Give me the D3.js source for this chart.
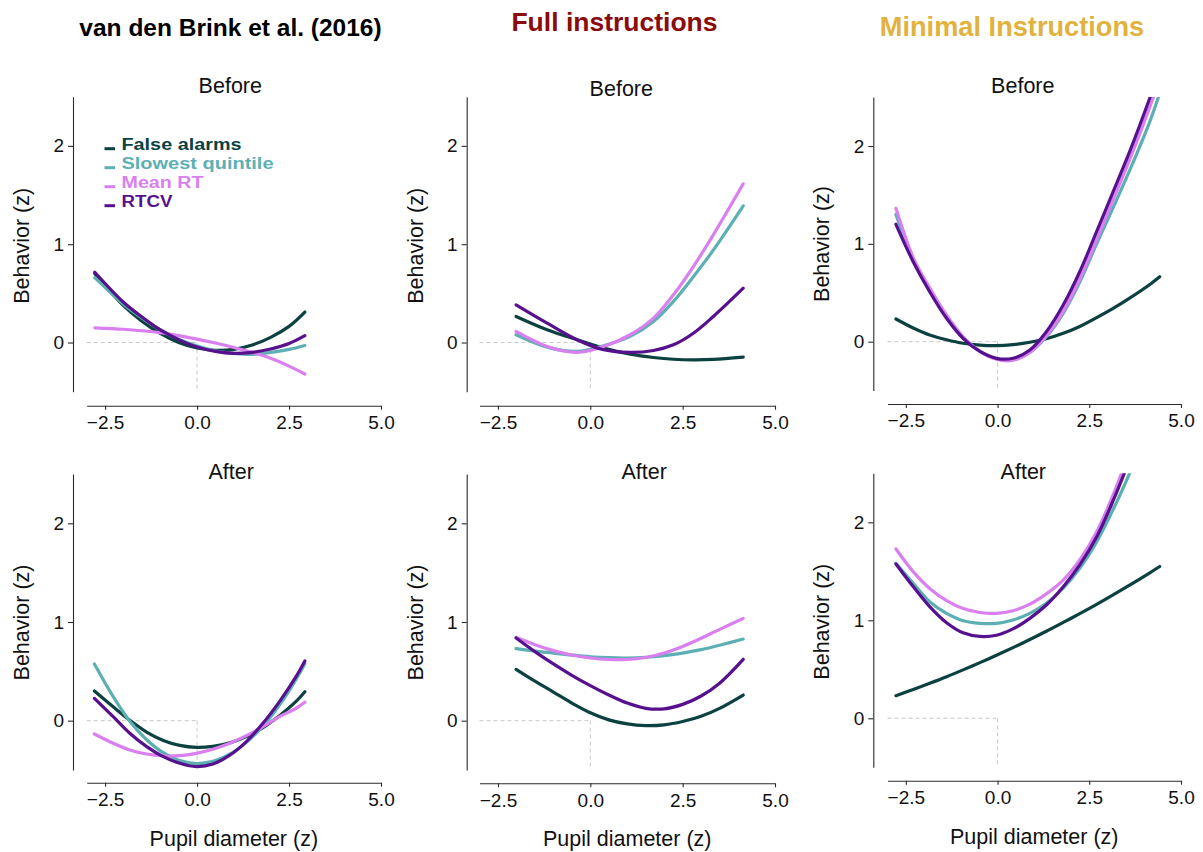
<!DOCTYPE html>
<html>
<head>
<meta charset="utf-8">
<script src="https://cdn.jsdelivr.net/npm/d3@7"></script>
<style>
  html, body { margin: 0; padding: 0; background: #ffffff; }
  svg { display: block; font-family: "Liberation Sans", Arial, Helvetica, sans-serif; }
</style>
</head>
<body>
<script>
// ---- Labels ----
const columnTitles = ["van den Brink et al. (2016)", "Full instructions", "Minimal Instructions"];
const rowTitles = ["Before", "After"];
const seriesNames = ["False alarms", "Slowest quintile", "Mean RT", "RTCV"];
const xTicks = [-2.5, 0, 2.5, 5];
const yTicks = [0, 1, 2];
const xDomain = [-3, 5];
const yDomain = [-0.5, 2.5];

// ---- van den Brink et al. (2016), before ----
const pupilBrinkBefore = [-2.78, -2, -1.5, -1, -0.5, 0, 0.5, 1, 1.5, 2, 2.5, 2.93];
const faBrinkBefore   = [0.70, 0.376, 0.218, 0.093, 0.0, -0.056, -0.079, -0.069, -0.025, 0.052, 0.164, 0.31];
const slowBrinkBefore = [0.66, 0.39, 0.25, 0.13, 0.035, -0.035, -0.085, -0.11, -0.12, -0.10, -0.07, -0.03];
const meanBrinkBefore = [0.15, 0.135, 0.12, 0.10, 0.07, 0.035, -0.005, -0.05, -0.10, -0.16, -0.24, -0.32];
const cvBrinkBefore   = [0.715, 0.41, 0.26, 0.128, 0.03, -0.045, -0.09, -0.11, -0.10, -0.066, -0.01, 0.07];

// ---- van den Brink et al. (2016), after ----
const pupilBrinkAfter = [-2.79, -2.28, -1.83, -1.37, -0.92, -0.47, -0.02, 0.43, 0.89, 1.34, 1.79, 2.24, 2.69, 2.93];
const faBrinkAfter   = [0.30, 0.14, 0.005, -0.115, -0.2, -0.25, -0.27, -0.26, -0.225, -0.162, -0.07, 0.05, 0.195, 0.294];
const slowBrinkAfter = [0.574, 0.244, -0.005, -0.193, -0.325, -0.405, -0.435, -0.413, -0.34, -0.22, -0.057, 0.157, 0.419, 0.578];
const meanBrinkAfter = [-0.135, -0.229, -0.297, -0.338, -0.358, -0.355, -0.331, -0.29, -0.229, -0.152, -0.06, 0.041, 0.125, 0.186];
const cvBrinkAfter   = [0.226, 0.04, -0.128, -0.263, -0.365, -0.432, -0.465, -0.44, -0.35, -0.212, -0.027, 0.193, 0.446, 0.605];

// ---- Full instructions, before ----
const pupilFullBefore = [-2.01, -1.17, -0.36, 0.36, 1.08, 1.71, 2.25, 2.79, 3.33, 4.14];
const faFullBefore   = [0.265, 0.13, 0.028, -0.057, -0.118, -0.152, -0.17, -0.176, -0.172, -0.149];
const slowFullBefore = [0.079, -0.047, -0.09, -0.033, 0.062, 0.214, 0.418, 0.67, 0.94, 1.39];
const meanFullBefore = [0.113, -0.04, -0.10, -0.04, 0.079, 0.248, 0.485, 0.773, 1.095, 1.614];
const cvFullBefore   = [0.383, 0.197, 0.028, -0.074, -0.10, -0.081, -0.023, 0.095, 0.265, 0.553];

// ---- Full instructions, after ----
const pupilFullAfter = [-2.01, -1.5, -1.0, -0.5, 0, 0.5, 1.0, 1.5, 2.0, 2.5, 3.0, 3.5, 4.14];
const faFullAfter   = [0.52, 0.40, 0.29, 0.178, 0.08, 0.008, -0.033, -0.05, -0.042, -0.008, 0.045, 0.125, 0.26];
const slowFullAfter = [0.73, 0.705, 0.685, 0.665, 0.648, 0.638, 0.635, 0.643, 0.66, 0.685, 0.72, 0.765, 0.827];
const meanFullAfter = [0.845, 0.77, 0.71, 0.665, 0.635, 0.62, 0.62, 0.64, 0.685, 0.752, 0.835, 0.925, 1.037];
const cvFullAfter   = [0.838, 0.70, 0.575, 0.46, 0.355, 0.26, 0.178, 0.125, 0.12, 0.165, 0.25, 0.38, 0.622];

// ---- Minimal instructions, before ----
const pupilMinBefore = [-2.77, -2.30, -1.85, -1.39, -0.94, -0.48, -0.03, 0.42, 0.88, 1.33, 1.79, 2.24, 2.70, 3.15, 3.60, 4.15, 4.42];
const faMinBefore   = [0.232, 0.14, 0.069, 0.02, -0.016, -0.035, -0.04, -0.03, -0.006, 0.03, 0.085, 0.155, 0.245, 0.34, 0.445, 0.585, 0.664];
const slowMinBefore = [1.30, 0.84, 0.53, 0.26, 0.045, -0.10, -0.175, -0.18, -0.11, 0.05, 0.29, 0.61, 1.0, 1.37, 1.75, 2.25, 2.54];
const meanMinBefore = [1.363, 0.86, 0.55, 0.27, 0.05, -0.10, -0.18, -0.19, -0.11, 0.06, 0.31, 0.64, 1.04, 1.45, 1.86, 2.40, 2.68];
const cvMinBefore   = [1.20, 0.818, 0.511, 0.239, 0.034, -0.10, -0.17, -0.17, -0.085, 0.102, 0.375, 0.715, 1.124, 1.533, 1.942, 2.49, 2.78];

// ---- Minimal instructions, after ----
const pupilMinAfter = [-2.77, -2.30, -1.85, -1.39, -0.94, -0.48, -0.03, 0.42, 0.88, 1.33, 1.79, 2.24, 2.70, 3.15, 3.60, 4.15, 4.42];
const faMinAfter   = [0.231, 0.294, 0.357, 0.424, 0.494, 0.568, 0.643, 0.721, 0.804, 0.888, 0.978, 1.068, 1.163, 1.26, 1.359, 1.485, 1.549];
const slowMinAfter = [1.582, 1.378, 1.19, 1.071, 0.996, 0.969, 0.969, 1.003, 1.071, 1.173, 1.327, 1.531, 1.80, 2.13, 2.50, 3.0, 3.3];
const meanMinAfter = [1.728, 1.497, 1.325, 1.2, 1.12, 1.08, 1.071, 1.098, 1.165, 1.27, 1.41, 1.615, 1.90, 2.28, 2.72, 3.3, 3.6];
const cvMinAfter   = [1.575, 1.344, 1.139, 0.975, 0.872, 0.835, 0.848, 0.912, 1.02, 1.156, 1.343, 1.565, 1.85, 2.22, 2.64, 3.2, 3.5];

// ---- Styles ----
const seriesColors = ["#0c4142", "#5cb0b4", "#d97ff0", "#57118e"];
const titleColors = ["#000000", "#8b0a0a", "#e2b23e"];
const titleSizes = [24.5, 26.5, 27.2];
const titleX = [230.5, 614.5, 1012];
const titleY = [36, 31, 35.5];
const legendWidths = [120, 152, 82, 51];

// Panel frames: pixel extents of each panel's axes
const frames = [
  { row: 0, col: 0, xr: [86.7, 381], yr: [391.7, 96.7], axisX: 73,    axisY: 405.7, tx: 230.3,  ty: 93.3, lx: 29,    ly: 245.8 },
  { row: 0, col: 1, xr: [479.5, 775], yr: [391.7, 96.7], axisX: 466.7, axisY: 405.7, tx: 621.3, ty: 95.7, lx: 423,   ly: 245.8 },
  { row: 0, col: 2, xr: [887.5, 1181], yr: [390.6, 97.1], axisX: 873.3, axisY: 404,  tx: 1022.8, ty: 93.3, lx: 828.5, ly: 244 },
  { row: 1, col: 0, xr: [86.7, 381], yr: [770, 474],     axisX: 73,    axisY: 782.7, tx: 231.2,  ty: 479,  lx: 29,    ly: 622.5 },
  { row: 1, col: 1, xr: [479.5, 775], yr: [770, 474],    axisX: 466.7, axisY: 783.3, tx: 644.2,  ty: 479,  lx: 422.5, ly: 622.5 },
  { row: 1, col: 2, xr: [887.5, 1181], yr: [767.3, 473.3], axisX: 873.3, axisY: 780.7, tx: 1023.3, ty: 479, lx: 828.5, ly: 621.7 }
];

const panelData = [
  { x: pupilBrinkBefore, ys: [faBrinkBefore, slowBrinkBefore, meanBrinkBefore, cvBrinkBefore] },
  { x: pupilFullBefore,  ys: [faFullBefore, slowFullBefore, meanFullBefore, cvFullBefore] },
  { x: pupilMinBefore,   ys: [faMinBefore, slowMinBefore, meanMinBefore, cvMinBefore] },
  { x: pupilBrinkAfter,  ys: [faBrinkAfter, slowBrinkAfter, meanBrinkAfter, cvBrinkAfter] },
  { x: pupilFullAfter,   ys: [faFullAfter, slowFullAfter, meanFullAfter, cvFullAfter] },
  { x: pupilMinAfter,    ys: [faMinAfter, slowMinAfter, meanMinAfter, cvMinAfter] }
];

const svg = d3.select("body").append("svg")
  .attr("width", 1203).attr("height", 852);

// Column headings
columnTitles.forEach((t, i) => {
  svg.append("text")
    .attr("x", titleX[i]).attr("y", titleY[i])
    .attr("text-anchor", "middle")
    .attr("font-weight", "bold")
    .attr("font-size", titleSizes[i])
    .attr("fill", titleColors[i])
    .text(t);
});

const defs = svg.append("defs");

frames.forEach((f, idx) => {
  const data = panelData[idx];
  const x = d3.scaleLinear().domain(xDomain).range(f.xr);
  const y = d3.scaleLinear().domain(yDomain).range(f.yr);
  const g = svg.append("g");

  // Reference lines through the origin
  g.append("line")
    .attr("x1", x(xDomain[0])).attr("x2", x(0))
    .attr("y1", y(0)).attr("y2", y(0))
    .attr("stroke", "#c9c9c9").attr("stroke-width", 1).attr("stroke-dasharray", "4,3");
  g.append("line")
    .attr("x1", x(0)).attr("x2", x(0))
    .attr("y1", y(0)).attr("y2", y(yDomain[0]))
    .attr("stroke", "#c9c9c9").attr("stroke-width", 1).attr("stroke-dasharray", "4,3");

  // Y axis
  const ya = g.append("g")
    .attr("transform", `translate(${f.axisX},0)`)
    .call(d3.axisLeft(y).tickValues(yTicks).tickFormat(d3.format("d")).tickSize(5).tickSizeOuter(0).tickPadding(4));
  // X axis
  const xa = g.append("g")
    .attr("transform", `translate(0,${f.axisY})`)
    .call(d3.axisBottom(x).tickValues(xTicks).tickFormat(d3.format(".1f")).tickSize(4).tickSizeOuter(0).tickPadding(6));
  [ya, xa].forEach(a => {
    a.selectAll("path, line").attr("stroke", "#2a2a2a").attr("stroke-width", 1.1);
    a.selectAll("text").attr("font-size", 19).attr("fill", "#111")
      .attr("font-family", "Liberation Sans, Arial, sans-serif");
  });

  // Panel heading
  g.append("text")
    .attr("x", f.tx).attr("y", f.ty)
    .attr("text-anchor", "middle").attr("font-size", 21.5).attr("fill", "#111")
    .text(rowTitles[f.row]);

  // Y axis title
  g.append("text")
    .attr("transform", `translate(${f.lx},${f.ly}) rotate(-90)`)
    .attr("text-anchor", "middle").attr("font-size", 21.5).attr("fill", "#111")
    .text("Behavior (z)");

  // X axis title on the bottom row
  if (f.row === 1) {
    g.append("text")
      .attr("x", (f.xr[0] + f.xr[1]) / 2).attr("y", f.axisY + 63)
      .attr("text-anchor", "middle").attr("font-size", 21.5).attr("fill", "#111")
      .text("Pupil diameter (z)");
  }

  // Clip curves to the plotting range
  const clipId = "clip" + idx;
  defs.append("clipPath").attr("id", clipId)
    .append("rect")
    .attr("x", f.xr[0] - 10).attr("y", y(yDomain[1]))
    .attr("width", f.xr[1] - f.xr[0] + 20)
    .attr("height", y(yDomain[0]) - y(yDomain[1]));

  const line = d3.line()
    .x(d => x(d[0])).y(d => y(d[1]))
    .curve(d3.curveCatmullRom.alpha(0.5));

  const cg = g.append("g").attr("clip-path", `url(#${clipId})`);
  data.ys.forEach((vals, s) => {
    const pts = data.x.map((xv, i) => [xv, vals[i]]);
    cg.append("path")
      .attr("d", line(pts))
      .attr("fill", "none")
      .attr("stroke", seriesColors[s])
      .attr("stroke-width", 3.2)
      .attr("stroke-linecap", "round");
  });

  // Legend in the first panel
  if (idx === 0) {
    const lg = g.append("g");
    seriesNames.forEach((name, s) => {
      const by = 150 + s * 19;
      lg.append("line")
        .attr("x1", 104.5).attr("x2", 115)
        .attr("y1", by - 1.3).attr("y2", by - 1.3)
        .attr("stroke", seriesColors[s]).attr("stroke-width", 3);
      lg.append("text")
        .attr("x", 121.5).attr("y", by)
        .attr("font-size", 16.8).attr("font-weight", "bold")
        .attr("textLength", legendWidths[s])
        .attr("lengthAdjust", "spacingAndGlyphs")
        .attr("fill", seriesColors[s])
        .text(name);
    });
  }
});
</script>
</body>
</html>
